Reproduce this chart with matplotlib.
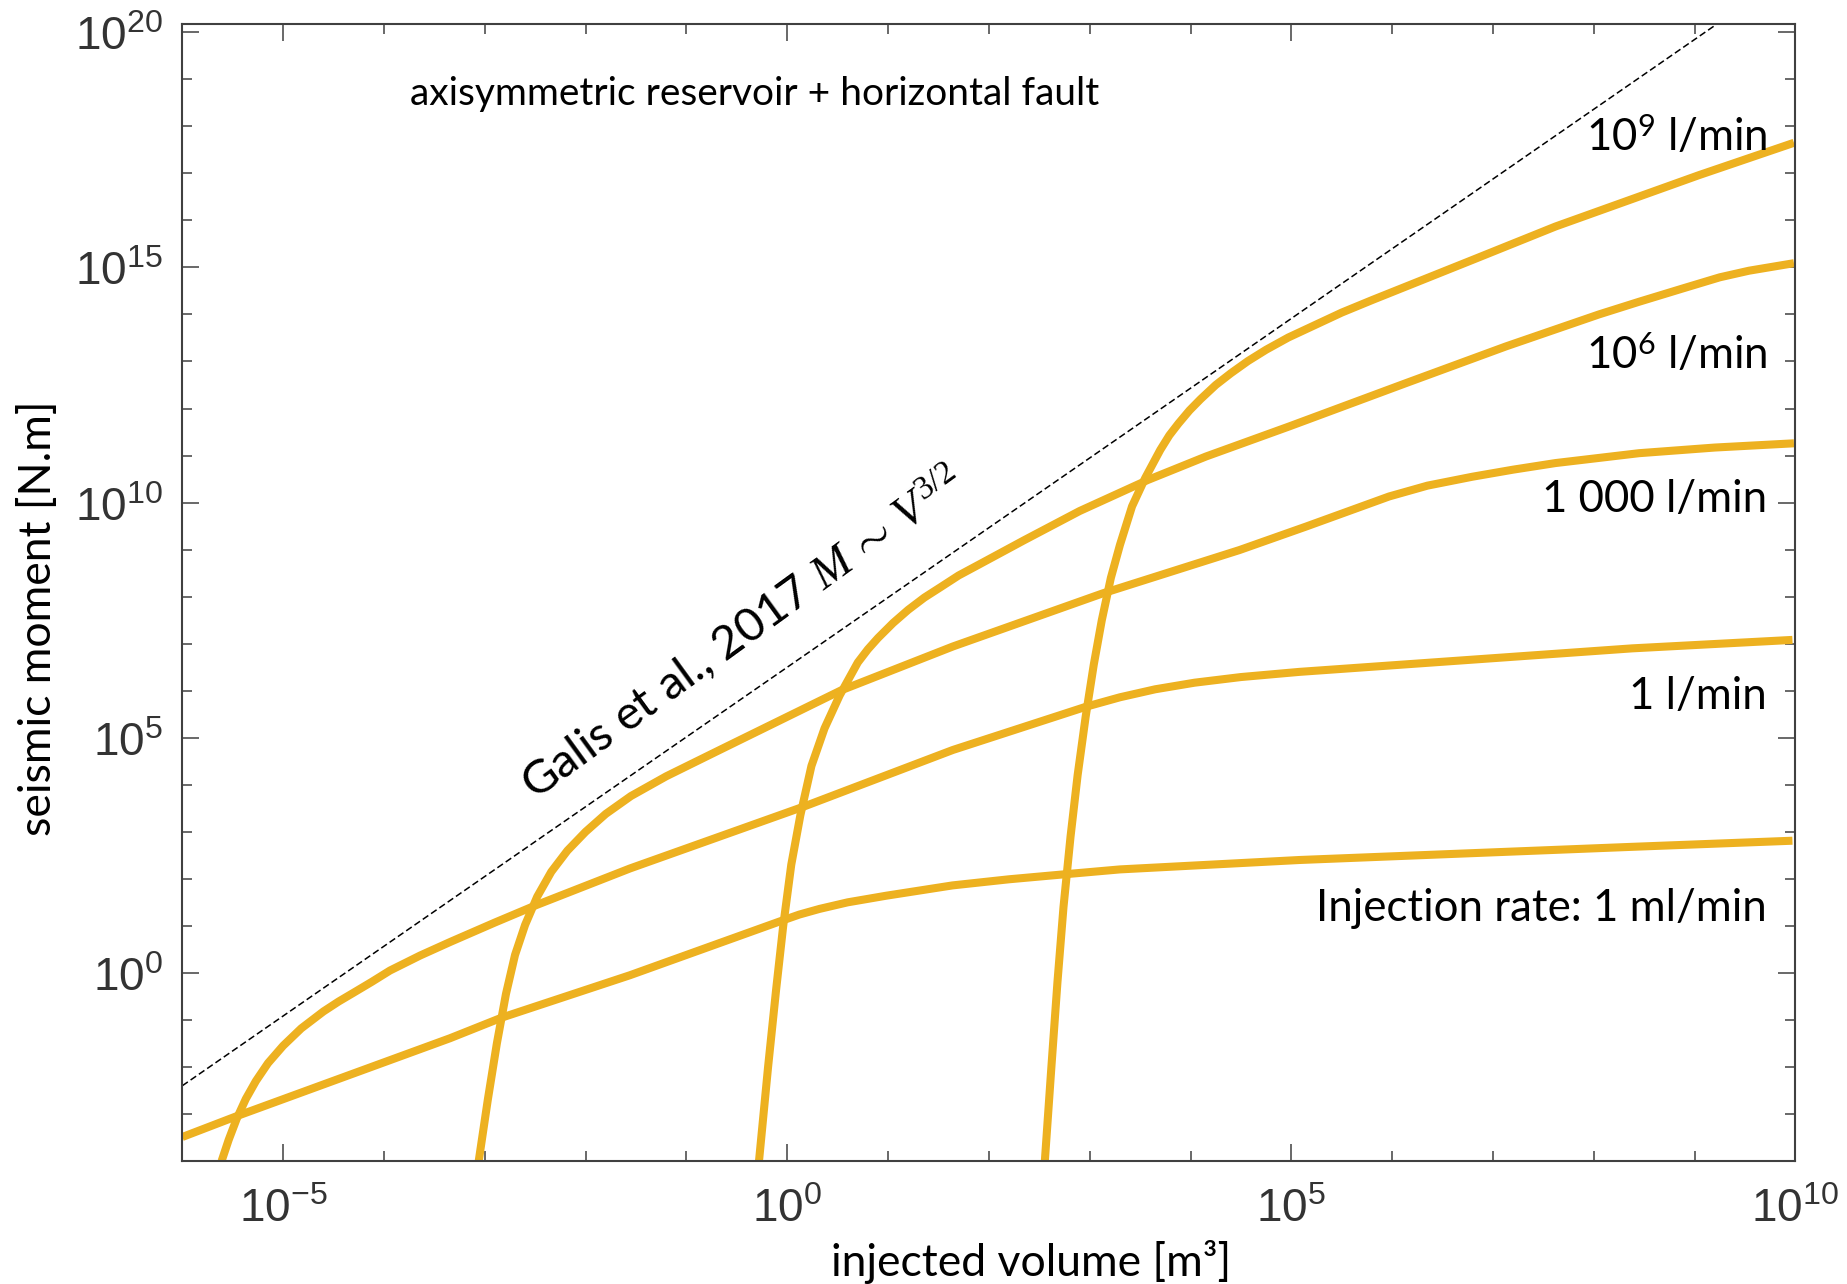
import numpy as np
import matplotlib
matplotlib.use('Agg')
import matplotlib.pyplot as plt
from matplotlib.ticker import FixedLocator, FuncFormatter, NullFormatter

plt.rcParams['font.family'] = ['Lato', 'DejaVu Sans']
plt.rcParams['mathtext.fontset'] = 'custom'
plt.rcParams['mathtext.rm'] = 'Liberation Serif'
plt.rcParams['mathtext.it'] = 'Liberation Serif:italic'
plt.rcParams['mathtext.sf'] = 'Liberation Sans'
plt.rcParams['mathtext.tt'] = 'Lato'

# values, as log10 of volume [m3] and log10 of moment [N.m]
ml_min_logv = [-6.0, -5.44, -3.345, -2.83, -1.56, -0.3, -0.04, 0.12, 0.32, 0.6, 0.98, 1.64, 2.2, 2.77,
               3.3, 5.08, 6.73, 8.38, 9.97]
ml_min_logm = [-3.49, -3.03, -1.39, -0.95, -0.05, 0.92, 1.12, 1.24, 1.36, 1.50, 1.64, 1.86, 1.99, 2.10,
               2.20, 2.40, 2.54, 2.68, 2.81]

l_min_logv = [-5.61, -5.54, -5.46, -5.37, -5.27, -5.15, -5.00, -4.82, -4.60, -4.45, -4.30, -4.12, -3.94,
              -3.64, -3.34, -2.90, -2.49, -1.56, 0.157, 1.643, 2.965, 3.30, 3.65, 4.04, 4.5, 5.08, 6.73,
              8.38, 9.97]
l_min_logm = [-4.0, -3.55, -3.10, -2.68, -2.30, -1.92, -1.55, -1.18, -0.82, -0.61, -0.42, -0.19, 0.05,
              0.37, 0.66, 1.07, 1.44, 2.22, 3.53, 4.74, 5.66, 5.86, 6.03, 6.17, 6.29, 6.40, 6.65,
              6.90, 7.08]

kl_min_logv = [-3.06, -2.97, -2.88, -2.79, -2.70, -2.60, -2.48, -2.34, -2.18, -2.00, -1.80, -1.55, -1.20,
               -0.67, 0.537, 1.643, 3.13, 4.485, 5.146, 5.97, 6.35, 6.797, 7.2, 7.62, 8.449, 9.2, 9.985]
kl_min_logm = [-4.0, -2.7, -1.5, -0.45, 0.38, 1.02, 1.62, 2.15, 2.60, 3.00, 3.38, 3.76, 4.18,
               4.74, 6.01, 6.94, 8.07, 8.99, 9.49, 10.13, 10.36, 10.55, 10.70, 10.84, 11.05, 11.17, 11.26]

ml6_min_logv = [-0.28, -0.19, -0.11, -0.04, 0.04, 0.13, 0.24, 0.37, 0.52, 0.70, 0.80, 0.90, 1.05, 1.20,
                1.36, 1.52, 1.70, 1.90, 2.35, 2.90, 3.576, 4.154, 4.98, 6.137, 7.128, 8.05, 8.449, 8.878,
                9.25, 9.539, 9.985]
ml6_min_logm = [-4.0, -2.0, -0.35, 1.0, 2.3, 3.35, 4.4, 5.2, 5.9, 6.6, 6.88, 7.12, 7.44, 7.72,
                7.98, 8.2, 8.45, 8.68, 9.2, 9.82, 10.48, 10.98, 11.62, 12.54, 13.32, 14.0, 14.27, 14.55,
                14.79, 14.93, 15.09]

ml9_min_logv = [2.555, 2.62, 2.68, 2.74, 2.81, 2.88, 2.96, 3.04, 3.12, 3.21, 3.30, 3.42, 3.55, 3.70,
                3.79, 3.88, 3.99, 4.10, 4.25, 4.40, 4.57, 4.75, 4.97, 5.2, 5.5, 5.806, 6.797, 7.62, 8.05,
                9.04, 9.985]
ml9_min_logm = [-4.0, -2.0, -0.2, 1.4, 2.9, 4.2, 5.45, 6.55, 7.5, 8.4, 9.1, 9.92, 10.52, 11.12,
                11.43, 11.68, 11.96, 12.2, 12.5, 12.75, 13.01, 13.25, 13.51, 13.74, 14.04, 14.31, 15.16,
                15.87, 16.2, 16.96, 17.65]

galis_logv = [-6.0, 10.0]
galis_logm = [-2.40, 21.33]

rate_curves = [
    (ml_min_logv, ml_min_logm),
    (l_min_logv, l_min_logm),
    (kl_min_logv, kl_min_logm),
    (ml6_min_logv, ml6_min_logm),
    (ml9_min_logv, ml9_min_logm),
]
rate_labels = ['Injection rate: 1 ml/min', '1 l/min', '1 000 l/min',
               r'10$^{\mathtt{6}}$ l/min', r'10$^{\mathtt{9}}$ l/min']

fig = plt.figure(figsize=(18.47, 12.84), dpi=100)
ax = fig.add_axes([0.0987, 0.0958, 0.8734, 0.8853])

for logv, logm in rate_curves:
    ax.plot(10.0 ** np.array(logv), 10.0 ** np.array(logm), color='#EDB120', lw=5.8,
            solid_joinstyle='round', solid_capstyle='butt')

ax.plot(10.0 ** np.array(galis_logv), 10.0 ** np.array(galis_logm), color='black', lw=1.1,
        linestyle=(0, (4.4, 2.2)))

ax.set_xscale('log')
ax.set_yscale('log')
ax.set_xlim(1e-6, 1e10)
ax.set_ylim(1e-4, 10 ** 20.17)

ax.xaxis.set_major_locator(FixedLocator([1e-5, 1e0, 1e5, 1e10]))
ax.xaxis.set_minor_locator(FixedLocator(10.0 ** np.arange(-6, 11)))
ax.yaxis.set_major_locator(FixedLocator([1e0, 1e5, 1e10, 1e15, 1e20]))
ax.yaxis.set_minor_locator(FixedLocator(10.0 ** np.arange(-4, 21)))
fmt = FuncFormatter(lambda v, pos: r'$\mathsf{10^{%d}}$' % int(round(np.log10(v))))
ax.xaxis.set_major_formatter(fmt)
ax.yaxis.set_major_formatter(fmt)
ax.xaxis.set_minor_formatter(NullFormatter())
ax.yaxis.set_minor_formatter(NullFormatter())

ax.tick_params(which='both', direction='in', top=True, right=True, color='#404040', width=1.1)
ax.tick_params(which='major', length=12, labelsize=33, labelcolor='#333333')
ax.tick_params(which='minor', length=7)
ax.tick_params(axis='x', which='major', pad=18)
ax.tick_params(axis='y', which='major', pad=14)
for sp in ax.spines.values():
    sp.set_color('#404040')
    sp.set_linewidth(1.5)

ax.text(0.141, 0.9387, 'axisymmetric reservoir + horizontal fault', transform=ax.transAxes,
        fontsize=28, ha='left', va='center')

label_y = [0.2217, 0.4086, 0.582, 0.7082, 0.9004]
for lab, yy in zip(rate_labels, label_y):
    ax.text(0.9823, yy, lab, transform=ax.transAxes, fontsize=31.5, ha='right', va='center')

ax.text(0.2185, 0.3164, r'Galis et al., 2017 $M\,\sim\,V^{3/2}$', transform=ax.transAxes,
        fontsize=34, rotation=36, rotation_mode='anchor', ha='left', va='baseline')

fig.text(0.021, 0.5187, 'seismic moment [N.m]', rotation=90, fontsize=32, ha='center', va='center')
fig.text(0.558, 0.017, 'injected volume [m\u00b3]', fontsize=32, ha='center', va='center')

fig.savefig('out.png', dpi=100)
